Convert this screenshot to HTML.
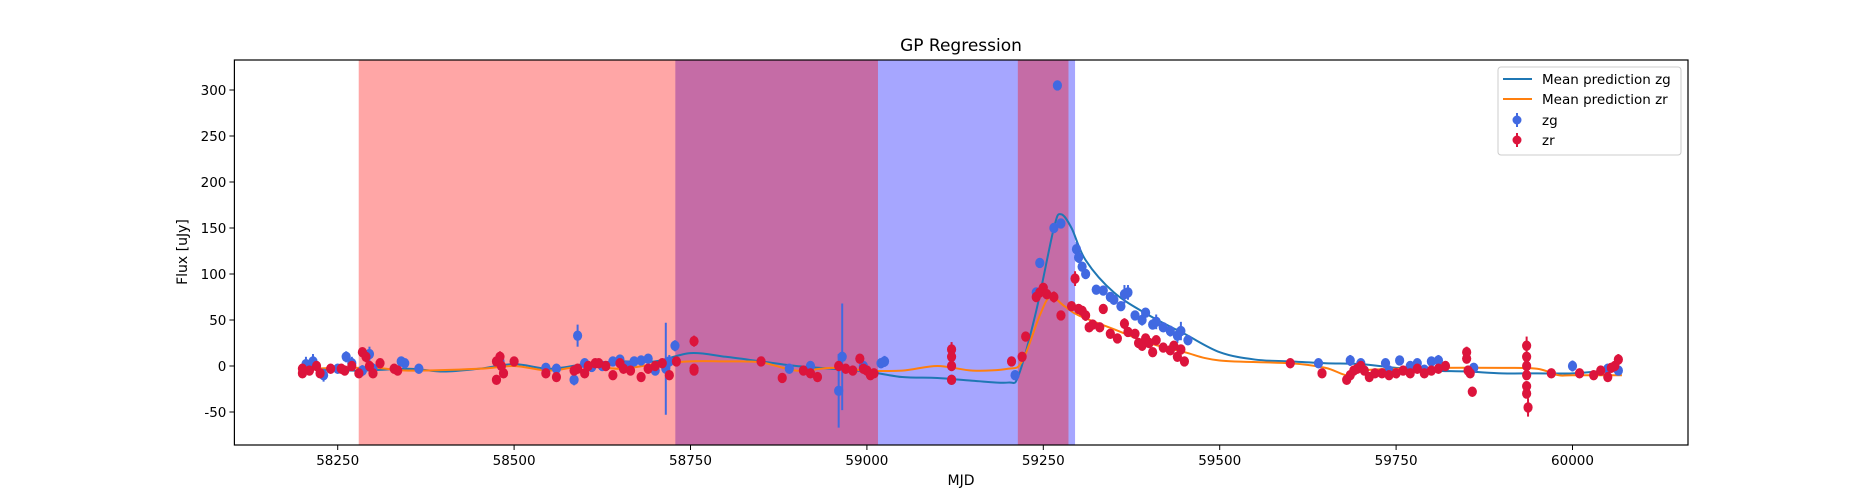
<!DOCTYPE html>
<html><head><meta charset="utf-8"><style>
body{margin:0;background:#fff}
svg{display:block;font-family:"DejaVu Sans","Liberation Sans",sans-serif}
</style></head><body>
<svg id="chart" width="1875" height="500" viewBox="0 0 1875 500" xmlns="http://www.w3.org/2000/svg">
<rect width="1875" height="500" fill="#fff"/>
<g id="shades"></g><g id="lines"></g><g id="pts"></g><g id="axes"></g>
<text x="961" y="51" font-size="17" text-anchor="middle">GP Regression</text>
<text x="961" y="485" font-size="14" text-anchor="middle">MJD</text>
<text x="187" y="252" font-size="14" text-anchor="middle" transform="rotate(-90 187 252)">Flux [uJy]</text>
<g>
<rect x="1498" y="67" width="183" height="88" fill="#fff" stroke="#ccc" rx="3"/>
<line x1="1503" y1="79" x2="1532" y2="79" stroke="#1f77b4" stroke-width="2"/>
<text x="1542" y="84" font-size="13.5">Mean prediction zg</text>
<line x1="1503" y1="99" x2="1532" y2="99" stroke="#ff7f0e" stroke-width="2"/>
<text x="1542" y="104" font-size="13.5">Mean prediction zr</text>
<line x1="1517" y1="113" x2="1517" y2="127" stroke="#4169e1" stroke-width="2"/><circle cx="1517" cy="120" r="4.5" fill="#4169e1"/>
<text x="1542" y="125" font-size="13.5">zg</text>
<line x1="1517" y1="133" x2="1517" y2="147" stroke="#dc143c" stroke-width="2"/><circle cx="1517" cy="140" r="4.5" fill="#dc143c"/>
<text x="1542" y="145" font-size="13.5">zr</text>
</g>
</svg>
<script>
const xTicks=[58250,58500,58750,59000,59250,59500,59750,60000];
const yTicks=[-50,0,50,100,150,200,250,300];
const shadeStarts=[58728.5,58279.8,59213.9];
const shadeEnds=[59295,59015.7,59285.7];
const shadeColors=["rgba(0,0,255,0.35)","rgba(255,0,0,0.35)","rgba(255,0,0,0.35)"];
const curveMjd=[58200,58280,58350,58400,58450,58500,58550,58600,58650,58700,58750,58800,58850,58900,58950,59000,59050,59100,59150,59200,59215,59240,59265,59275,59290,59310,59350,59400,59450,59500,59550,59600,59650,59700,59750,59800,59850,59900,59950,60000,60050,60070];
const zgMean=[-3,-5,-3,-6,-3,2,-3,2,5,5,14,10,5,0,-3,-6,-12,-13,-16,-18,-10,60,150,165,150,115,80,55,35,15,7,5,3,2,-2,-5,-6,-8,-8,-8,-5,-3];
const zrMjd=[58200,58300,58350,58450,58500,58550,58600,58650,58700,58750,58800,58850,58900,58950,59000,59050,59100,59150,59200,59220,59245,59260,59280,59300,59350,59400,59450,59500,59600,59650,59680,59700,59750,59800,59900,59950,59980,60000,60070];
const zrMean=[-3,-2,-5,-3,0,-5,0,-3,2,5,5,4,-5,-2,-5,-5,0,-5,-3,5,55,75,65,55,40,25,15,6,3,-2,-10,-5,-3,-2,-2,-3,-10,-10,-10];
const zgPts=[[58205,2,8],[58215,5,8],[58230,-10,7],[58250,-3,5],[58262,10,6],[58270,3,7],[58285,-5,6],[58295,13,8],[58300,-3,6],[58340,5,5],[58345,3,4],[58365,-3,4],[58480,5,6],[58545,-2,5],[58560,-3,4],[58590,33,12],[58585,-15,6],[58600,3,5],[58610,-1,5],[58625,0,4],[58640,5,4],[58650,7,5],[58660,0,4],[58670,5,5],[58680,6,4],[58690,8,4],[58700,-5,4],[58715,-3,50],[58720,5,7],[58728,22,6],[58890,-3,5],[58920,0,4],[58960,-27,40],[58965,10,58],[58995,0,4],[59020,3,5],[59025,5,6],[59120,-15,5],[59210,-10,4],[59240,80,4],[59245,112,4],[59265,150,4],[59275,155,4],[59270,305,5],[59297,127,8],[59300,118,6],[59305,108,4],[59310,100,5],[59325,83,4],[59335,82,5],[59345,75,5],[59350,72,5],[59360,65,5],[59365,78,10],[59370,80,8],[59380,55,5],[59390,50,6],[59395,58,5],[59405,45,5],[59410,48,8],[59420,42,4],[59430,38,6],[59440,33,8],[59445,38,10],[59455,28,5],[59640,3,4],[59685,6,6],[59700,3,4],[59735,3,4],[59740,-5,4],[59755,6,5],[59770,0,4],[59780,3,5],[59790,-4,5],[59800,5,4],[59810,6,6],[59860,-2,4],[60000,0,6],[60050,-3,5],[60065,-5,4]];
const zrPts=[[58200,-8,4],[58200,-3,4],[58210,-5,4],[58220,0,3],[58225,-8,3],[58240,-3,4],[58255,-3,3],[58260,-5,3],[58270,0,4],[58280,-8,4],[58285,15,5],[58290,10,6],[58295,0,4],[58300,-8,4],[58310,3,5],[58330,-3,4],[58335,-5,3],[58475,-15,5],[58475,5,4],[58480,10,6],[58482,0,4],[58485,-8,4],[58500,5,4],[58545,-8,4],[58560,-12,4],[58585,-5,4],[58590,-3,4],[58600,-8,4],[58605,0,4],[58615,3,4],[58620,3,4],[58630,0,4],[58640,-10,4],[58650,3,4],[58655,-3,4],[58665,-5,4],[58680,-12,4],[58690,-3,4],[58700,0,4],[58710,3,4],[58720,-10,4],[58730,5,4],[58755,27,6],[58755,-5,5],[58755,-3,5],[58850,5,4],[58880,-13,4],[58910,-5,4],[58920,-8,4],[58930,-12,4],[58960,0,4],[58970,-3,4],[58980,-5,4],[58990,8,4],[58995,-3,4],[59000,-5,4],[59005,-10,4],[59010,-8,4],[59120,18,8],[59120,10,6],[59120,0,5],[59120,-15,5],[59205,5,4],[59220,10,4],[59225,32,5],[59240,75,4],[59245,80,4],[59250,85,4],[59255,78,5],[59265,75,6],[59275,55,4],[59290,65,5],[59295,95,8],[59300,62,5],[59305,60,5],[59310,55,6],[59315,42,5],[59320,45,5],[59330,42,5],[59335,62,5],[59345,35,4],[59355,30,4],[59365,46,6],[59370,37,4],[59380,35,4],[59385,25,5],[59390,22,4],[59395,30,4],[59400,25,4],[59405,15,4],[59410,28,5],[59420,20,4],[59430,17,4],[59435,22,4],[59440,10,4],[59445,18,4],[59450,5,4],[59600,3,5],[59645,-8,4],[59680,-15,4],[59685,-10,4],[59690,-5,4],[59695,-3,4],[59700,0,4],[59705,-5,4],[59712,-12,4],[59720,-8,4],[59730,-8,4],[59740,-10,4],[59750,-8,4],[59760,-5,4],[59770,-8,4],[59780,-3,4],[59790,-8,4],[59800,-5,4],[59810,-3,4],[59820,0,4],[59850,15,6],[59850,8,5],[59852,-5,5],[59855,-8,5],[59858,-28,5],[59935,22,10],[59935,10,5],[59935,0,5],[59935,-10,5],[59935,-22,5],[59935,-30,5],[59937,-45,10],[59970,-8,4],[60010,-8,4],[60030,-10,4],[60040,-5,4],[60050,-12,4],[60055,-2,4],[60060,0,5],[60065,7,6]];

const L=234.4,R=1688,T=60,B=445;
function xs(v){return 337.7+(v-58250)*0.7056;}
function ys(v){return 366-v*0.92;}
const NS="http://www.w3.org/2000/svg";
function mk(tag,attrs,parent){const e=document.createElementNS(NS,tag);for(const k in attrs)e.setAttribute(k,attrs[k]);parent.appendChild(e);return e;}
const gS=document.getElementById('shades'),gL=document.getElementById('lines'),gP=document.getElementById('pts'),gA=document.getElementById('axes');
shadeStarts.forEach((s,i)=>{
  const r=mk('rect',{x:xs(s),y:T,width:xs(shadeEnds[i])-xs(s),height:B-T,fill:shadeColors[i]},gS);
  
  
});
function smooth(xa,ya){
  const p=xa.map((x,i)=>[xs(x),ys(ya[i])]);
  let d='M'+p[0][0]+','+p[0][1];
  for(let i=0;i<p.length-1;i++){
    const p0=p[Math.max(0,i-1)],p1=p[i],p2=p[i+1],p3=p[Math.min(p.length-1,i+2)];
    const c1=[p1[0]+(p2[0]-p0[0])/6,p1[1]+(p2[1]-p0[1])/6];
    const c2=[p2[0]-(p3[0]-p1[0])/6,p2[1]-(p3[1]-p1[1])/6];
    d+=' C'+c1+' '+c2+' '+p2;
  }
  return d;
}
const l1=mk('path',{d:smooth(curveMjd,zgMean),fill:'none',stroke:'#1f77b4','stroke-width':2},gL);


const l2=mk('path',{d:smooth(zrMjd,zrMean),fill:'none',stroke:'#ff7f0e','stroke-width':2},gL);


function drawPts(arr,col,name){
  arr.forEach(p=>{
    const g=mk('g',{},gP);
    
    
    mk('line',{x1:xs(p[0]),x2:xs(p[0]),y1:ys(p[1]+p[2]),y2:ys(p[1]-p[2]),stroke:col,'stroke-width':2},g);
    mk('ellipse',{cx:xs(p[0]),cy:ys(p[1]),rx:4.6,ry:5.2,fill:col},g);
  });
}
drawPts(zgPts,'#4169e1','zg-point');
drawPts(zrPts,'#dc143c','zr-point');
mk('rect',{x:L,y:T,width:R-L,height:B-T,fill:'none',stroke:'#000','stroke-width':1.2},gA);
xTicks.forEach(t=>{
  mk('line',{x1:xs(t),x2:xs(t),y1:B,y2:B+5,stroke:'#000'},gA);
  const tx=mk('text',{x:xs(t),y:B+20,'font-size':13.5,'text-anchor':'middle'},gA);
  tx.textContent=t;
  
  
});
yTicks.forEach(t=>{
  mk('line',{x1:L-5,x2:L,y1:ys(t),y2:ys(t),stroke:'#000'},gA);
  const tx=mk('text',{x:L-8,y:ys(t)+5,'font-size':13.5,'text-anchor':'end'},gA);
  tx.textContent=t;
  
  
});
</script>
</body></html>
